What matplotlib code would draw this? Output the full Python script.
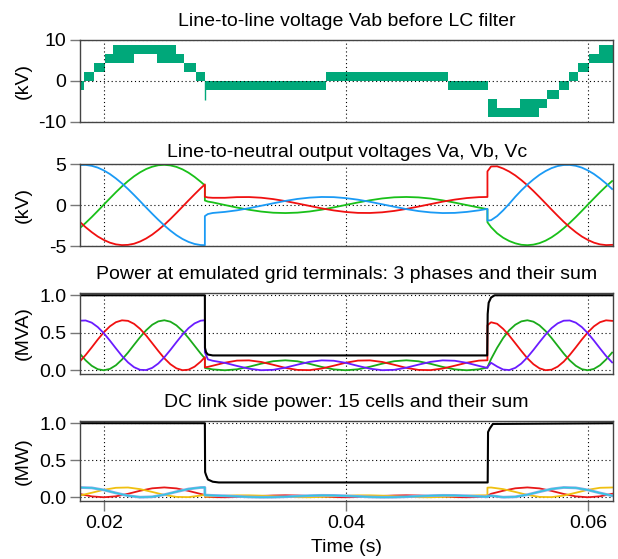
import numpy as np
import matplotlib.pyplot as plt

plt.rcParams['font.family'] = ['Liberation Sans', 'DejaVu Sans']
plt.rcParams['axes.unicode_minus'] = False

# ---- time grids (ms): before fault, during fault, after fault ----
t_pre = [18.0, 18.5, 19.0, 19.5, 20.0, 20.5, 21.0, 21.5, 22.0, 22.5, 23.0,
         23.5, 24.0, 24.5, 25.0, 25.5, 26.0, 26.5, 27.0, 27.5, 28.0, 28.35]
t_flt = [28.35, 28.6, 29, 30, 31, 32, 33, 34, 35, 36, 37, 38, 39, 40, 41, 42,
         43, 44, 45, 46, 47, 48, 49, 50, 51, 51.7]
t_post = [51.7, 52.0, 52.5, 53.0, 53.5, 54.0, 54.5, 55.0, 55.5, 56.0, 56.5,
          57.0, 57.5, 58.0, 58.5, 59.0, 59.5, 60.0, 60.5, 61.0, 61.5, 62.0]

# ---- Vab before LC filter (kV): PWM band between two levels ----
vab_t = [18.0, 18.4, 19.2, 20.1, 20.8, 22.5, 24.4, 26.0, 26.6, 27.6, 28.36,
         38.4, 48.4, 51.75, 52.5, 54.4, 56.0, 56.6, 57.6, 58.4, 59.2, 60.1,
         60.9, 62.1]
vab_lo = [-2.2, 0, 2.2, 4.4, 4.4, 6.6, 4.4, 4.4, 2.2, 0, -2.2, 0, -2.2,
          -8.8, -8.8, -8.8, -6.6, -4.4, -2.2, 0, 2.2, 4.4, 4.4, 4.4]
vab_hi = [0, 2.2, 4.4, 6.6, 8.8, 8.8, 8.8, 6.6, 4.4, 2.2, 0, 2.2, 0,
          -4.4, -6.6, -4.4, -4.4, -2.2, 0, 2.2, 4.4, 6.6, 8.8, 8.8]
vab_spike_t = 28.38
vab_spike_v = -4.6

# ---- line-to-neutral voltages (kV) ----
va_pre = [-2.84, -2.18, -1.47, -0.72, 0.05, 0.81, 1.56, 2.27, 2.92, 3.50, 3.99,
          4.39, 4.67, 4.85, 4.90, 4.83, 4.65, 4.35, 3.94, 3.43, 2.84, 2.39]
vb_pre = [-2.03, -2.71, -3.31, -3.84, -4.26, -4.59, -4.80, -4.89, -4.86, -4.72, -4.45,
          -4.08, -3.61, -3.04, -2.41, -1.71, -0.97, -0.21, 0.56, 1.31, 2.04, 2.51]
vc_pre = [4.88, 4.89, 4.78, 4.56, 4.22, 3.78, 3.24, 2.63, 1.95, 1.22, 0.46,
          -0.31, -1.07, -1.80, -2.49, -3.12, -3.68, -4.14, -4.50, -4.75, -4.88, -4.90]

va_flt = [0.55, 0.42, 0.32, 0.00, -0.31, -0.58, -0.80, -0.94, -0.98, -0.93, -0.79,
          -0.57, -0.29, 0.01, 0.31, 0.58, 0.80, 0.94, 0.98, 0.93, 0.79, 0.57,
          0.29, -0.01, -0.31, -0.51]
vb_flt = [1.00, 0.92, 0.88, 0.88, 0.96, 0.97, 0.89, 0.72, 0.48, 0.19, -0.11,
          -0.41, -0.66, -0.85, -0.96, -0.97, -0.89, -0.72, -0.48, -0.19, 0.11, 0.41,
          0.66, 0.85, 0.96, 0.98]
vc_flt = [-1.35, -1.10, -0.97, -0.84, -0.65, -0.39, -0.09, 0.21, 0.50, 0.74, 0.90,
          0.98, 0.96, 0.84, 0.65, 0.39, 0.09, -0.21, -0.50, -0.74, -0.90, -0.98,
          -0.96, -0.84, -0.65, -0.47]

va_post = [-2.10, -2.70, -3.45, -3.99, -4.39, -4.67, -4.85, -4.90, -4.83, -4.65, -4.35,
           -3.94, -3.43, -2.84, -2.18, -1.47, -0.72, 0.05, 0.81, 1.56, 2.27, 2.92]
vb_post = [4.10, 4.70, 4.72, 4.45, 4.08, 3.61, 3.04, 2.41, 1.71, 0.97, 0.21,
           -0.56, -1.31, -2.04, -2.71, -3.31, -3.84, -4.26, -4.59, -4.80, -4.89, -4.86]
vc_post = [-1.90, -1.85, -1.35, -0.65, 0.15, 1.00, 1.78, 2.49, 3.12, 3.68, 4.14,
           4.50, 4.75, 4.88, 4.89, 4.78, 4.56, 4.22, 3.78, 3.24, 2.63, 1.95]

# ---- power at grid terminals (MVA) ----
pa_pre = [0.225, 0.132, 0.060, 0.014, 0.000, 0.018, 0.067, 0.143, 0.236, 0.340, 0.442,
          0.534, 0.607, 0.652, 0.667, 0.648, 0.599, 0.524, 0.430, 0.327, 0.224, 0.158]
pb_pre = [0.114, 0.204, 0.305, 0.410, 0.506, 0.586, 0.641, 0.666, 0.659, 0.619, 0.552,
          0.463, 0.361, 0.258, 0.160, 0.081, 0.026, 0.001, 0.008, 0.048, 0.115, 0.175]
pc_pre = [0.661, 0.664, 0.635, 0.576, 0.494, 0.396, 0.292, 0.191, 0.105, 0.041, 0.006,
          0.003, 0.032, 0.090, 0.173, 0.271, 0.375, 0.475, 0.562, 0.625, 0.661, 0.667]

pa_flt = [0.032, 0.023, 0.012, 0.000, 0.013, 0.047, 0.088, 0.121, 0.133, 0.120, 0.086,
          0.045, 0.012, 0.000, 0.013, 0.047, 0.088, 0.121, 0.133, 0.120, 0.086, 0.045,
          0.012, 0.000, 0.013, 0.036]
pb_flt = [0.040, 0.045, 0.061, 0.101, 0.129, 0.132, 0.111, 0.073, 0.032, 0.005, 0.002,
          0.023, 0.061, 0.101, 0.129, 0.132, 0.111, 0.073, 0.032, 0.005, 0.002, 0.023,
          0.061, 0.101, 0.129, 0.133]
pc_flt = [0.240, 0.145, 0.127, 0.099, 0.058, 0.021, 0.001, 0.006, 0.035, 0.075, 0.112,
          0.132, 0.127, 0.099, 0.058, 0.021, 0.001, 0.006, 0.035, 0.075, 0.112, 0.132,
          0.127, 0.099, 0.058, 0.031]

pa_post = [0.040, 0.150, 0.300, 0.430, 0.534, 0.607, 0.652, 0.667, 0.648, 0.599, 0.524,
           0.430, 0.327, 0.224, 0.132, 0.060, 0.014, 0.000, 0.018, 0.067, 0.143, 0.236]
pb_post = [0.600, 0.640, 0.620, 0.552, 0.463, 0.361, 0.258, 0.160, 0.081, 0.026, 0.001,
           0.008, 0.048, 0.115, 0.204, 0.305, 0.410, 0.506, 0.586, 0.641, 0.666, 0.659]
pc_post = [0.040, 0.100, 0.050, 0.010, 0.003, 0.032, 0.090, 0.173, 0.271, 0.375, 0.475,
           0.562, 0.625, 0.661, 0.664, 0.635, 0.576, 0.494, 0.396, 0.292, 0.191, 0.105]

t_sum3 = [18.0, 28.35, 28.36, 28.45, 28.6, 29.0, 51.68, 51.72, 51.8, 52.0, 52.3, 62.1]
p_sum3 = [1.0, 1.0, 0.30, 0.24, 0.21, 0.198, 0.198, 0.75, 0.90, 0.97, 1.0, 1.0]

# ---- DC link side power (MW) ----
tc_pre = [18, 19, 20, 21, 22, 23, 24, 25, 26, 27, 28, 28.35]
tc_flt = [28.35, 29, 30, 31, 32, 33, 34, 35, 36, 37, 38, 39, 40, 41, 42, 43,
          44, 45, 46, 47, 48, 49, 50, 51, 51.7]
tc_post = [51.7, 52, 53, 54, 55, 56, 57, 58, 59, 60, 61, 62]

cell_red = ([0.045, 0.012, 0.000, 0.013, 0.047, 0.088, 0.121, 0.133, 0.120, 0.086, 0.045, 0.032]
            + [0.006, 0.002, 0.000, 0.003, 0.009, 0.018, 0.024, 0.027, 0.024, 0.017, 0.009, 0.002,
               0.000, 0.003, 0.009, 0.018, 0.024, 0.027, 0.024, 0.017, 0.009, 0.002, 0.000, 0.003, 0.007]
            + [0.020, 0.047, 0.088, 0.121, 0.133, 0.120, 0.086, 0.045, 0.012, 0.000, 0.013, 0.047])
cell_yel = ([0.023, 0.061, 0.101, 0.128, 0.132, 0.110, 0.072, 0.032, 0.005, 0.002, 0.023, 0.035]
            + [0.008, 0.012, 0.020, 0.026, 0.026, 0.022, 0.015, 0.006, 0.001, 0.000, 0.005, 0.012,
               0.020, 0.026, 0.026, 0.022, 0.015, 0.006, 0.001, 0.000, 0.005, 0.012, 0.020, 0.026, 0.027]
            + [0.130, 0.132, 0.110, 0.072, 0.032, 0.005, 0.002, 0.023, 0.061, 0.101, 0.128, 0.132])
cell_cyan = ([0.132, 0.127, 0.099, 0.058, 0.021, 0.001, 0.006, 0.035, 0.075, 0.112, 0.132, 0.133]
             + [0.030, 0.025, 0.020, 0.012, 0.004, 0.000, 0.001, 0.007, 0.015, 0.022, 0.026, 0.025,
                0.020, 0.012, 0.004, 0.000, 0.001, 0.007, 0.015, 0.022, 0.026, 0.025, 0.020, 0.012, 0.006]
             + [0.015, 0.021, 0.001, 0.006, 0.035, 0.075, 0.112, 0.132, 0.127, 0.099, 0.058, 0.021])

t_sum4 = [18.0, 28.35, 28.37, 28.45, 28.6, 29.0, 29.5, 51.72, 51.75, 51.9, 52.15, 62.1]
p_sum4 = [1.0, 1.0, 0.34, 0.30, 0.24, 0.21, 0.20, 0.20, 0.88, 0.93, 0.99, 1.0]

# ---- plotting ----
ms = 1e-3
t_v = np.array(t_pre + t_flt + t_post) * ms
t_c = np.array(tc_pre + tc_flt + tc_post) * ms

fig = plt.figure(figsize=(6.18, 5.59), dpi=100)
L, W = 0.130, 0.862
ax1 = fig.add_axes([L, 0.7818, W, 0.1467])
ax2 = fig.add_axes([L, 0.5599, W, 0.1467])
ax3 = fig.add_axes([L, 0.3309, W, 0.1449])
ax4 = fig.add_axes([L, 0.1038, W, 0.1431])

fs_title = 14

green_vab = '#00a87a'
ax1.fill_between(np.array(vab_t) * ms, vab_lo, vab_hi, step='post',
                 color=green_vab, lw=0)
ax1.vlines(vab_spike_t * ms, vab_spike_v, 0, color=green_vab, lw=1)
ax1.set_ylim(-10, 10)
ax1.set_yticks([-10, 0, 10])
ax1.set_title('Line-to-line voltage Vab before LC filter', fontsize=fs_title, pad=10)
ax1.set_ylabel('(kV)')

ax2.plot(t_v, va_pre + va_flt + va_post, color='#19c019', lw=1.3)
ax2.plot(t_v, vb_pre + vb_flt + vb_post, color='#f01010', lw=1.3)
ax2.plot(t_v, vc_pre + vc_flt + vc_post, color='#1a9af5', lw=1.3)
ax2.set_ylim(-5, 5)
ax2.set_yticks([-5, 0, 5])
ax2.set_title('Line-to-neutral output voltages Va, Vb, Vc', fontsize=fs_title, pad=5)
ax2.set_ylabel('(kV)')

ax3.plot(t_v, pa_pre + pa_flt + pa_post, color='#1aaa1a', lw=1.3)
ax3.plot(t_v, pb_pre + pb_flt + pb_post, color='#f01010', lw=1.3)
ax3.plot(t_v, pc_pre + pc_flt + pc_post, color='#6a1cff', lw=1.3)
ax3.plot(np.array(t_sum3) * ms, p_sum3, color='black', lw=1.5)
ax3.set_ylim(-0.05, 1.03)
ax3.set_yticks([0.0, 0.5, 1.0])
ax3.set_yticklabels(['0.0', '0.5', '1.0'])
ax3.set_title('Power at emulated grid terminals: 3 phases and their sum',
              fontsize=fs_title, pad=10)
ax3.set_ylabel('(MVA)')

ax4.plot(t_c, cell_red, color='#e81818', lw=1.3)
ax4.plot(t_c, cell_yel, color='#f0c010', lw=1.3)
ax4.plot(t_c, cell_cyan, color='#8aa8e8', lw=2.0)
ax4.plot(t_c, cell_cyan, color='#30c8e0', lw=1.0)
ax4.plot(np.array(t_sum4) * ms, p_sum4, color='black', lw=1.5)
ax4.set_ylim(-0.05, 1.03)
ax4.set_yticks([0.0, 0.5, 1.0])
ax4.set_yticklabels(['0.0', '0.5', '1.0'])
ax4.set_title('DC link side power: 15 cells and their sum', fontsize=fs_title, pad=10)
ax4.set_ylabel('(MW)')
ax4.set_xlabel('Time (s)', fontsize=14, labelpad=5)

for ax in (ax1, ax2, ax3, ax4):
    ax.set_xlim(0.01806, 0.06208)
    ax.set_xticks([0.02, 0.04, 0.06])
    ax.grid(True, color='black', linestyle=(0, (1, 2.5)), lw=0.8)
    ax.tick_params(axis='y', direction='out', length=7, width=1,
                   color='#777777', labelsize=14, pad=3)
    ax.yaxis.set_label_coords(-0.092, 0.5)
    ax.yaxis.label.set_fontsize(14)
    for s in ax.spines.values():
        s.set_color('#444444')
        s.set_linewidth(1.0)

for ax in (ax1, ax2, ax3):
    ax.tick_params(axis='x', length=0, labelbottom=False)
ax4.tick_params(axis='x', direction='out', length=7, width=1,
                color='#777777', labelsize=14, pad=3)
ax4.set_xticklabels(['0.02', '0.04', '0.06'])

plt.savefig('out.png', dpi=100)
